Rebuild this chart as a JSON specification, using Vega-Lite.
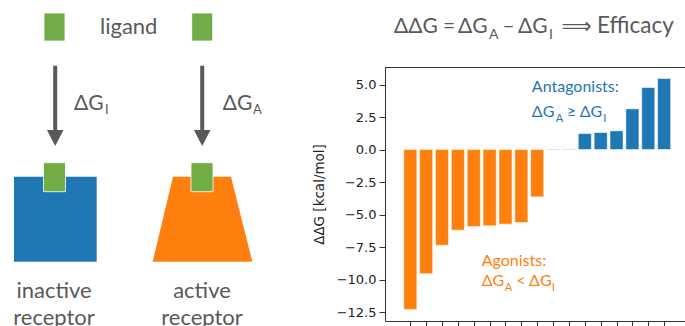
{
  "$schema": "https://vega.github.io/schema/vega-lite/v6.json",
  "width": 300,
  "height": 254,
  "autosize": "none",
  "padding": {"left": 385, "top": 67, "right": 0, "bottom": 5},
  "background": "white",
  "config": {
    "view": {"stroke": null},
    "text": {"font": "Lato, DejaVu Sans"}
  },
  "datasets": {
    "bars": [
      {"rank": 0, "ddG": -12.3, "class": "agonist"},
      {"rank": 1, "ddG": -9.55, "class": "agonist"},
      {"rank": 2, "ddG": -7.36, "class": "agonist"},
      {"rank": 3, "ddG": -6.2, "class": "agonist"},
      {"rank": 4, "ddG": -5.92, "class": "agonist"},
      {"rank": 5, "ddG": -5.87, "class": "agonist"},
      {"rank": 6, "ddG": -5.74, "class": "agonist"},
      {"rank": 7, "ddG": -5.62, "class": "agonist"},
      {"rank": 8, "ddG": -3.64, "class": "agonist"},
      {"rank": 9, "ddG": 0.04, "class": "antagonist"},
      {"rank": 10, "ddG": 0.04, "class": "antagonist"},
      {"rank": 11, "ddG": 1.23, "class": "antagonist"},
      {"rank": 12, "ddG": 1.31, "class": "antagonist"},
      {"rank": 13, "ddG": 1.44, "class": "antagonist"},
      {"rank": 14, "ddG": 3.13, "class": "antagonist"},
      {"rank": 15, "ddG": 4.77, "class": "antagonist"},
      {"rank": 16, "ddG": 5.46, "class": "antagonist"}
    ],
    "rects": [
      {"part": "inactive", "x0": 14, "x1": 96.7, "y0": 176.7, "y1": 261.7},
      {"part": "arrow", "x0": 53.2, "x1": 57.2, "y0": 65.7, "y1": 131},
      {"part": "arrow", "x0": 200.2, "x1": 204.2, "y0": 65.7, "y1": 131}
    ],
    "ligands": [
      {"part": "ligand", "x0": 44, "x1": 65, "y0": 13, "y1": 41},
      {"part": "ligand", "x0": 191.7, "x1": 212.7, "y0": 13, "y1": 41},
      {"part": "ligand", "x0": 43.5, "x1": 65.5, "y0": 162.7, "y1": 191.7},
      {"part": "ligand", "x0": 191, "x1": 213, "y0": 162.7, "y1": 191.7}
    ],
    "polygons": [
      {"shape": "headL", "part": "arrow", "x": 46.9, "yTop": 130, "yBot": 130},
      {"shape": "headL", "part": "arrow", "x": 55.2, "yTop": 130, "yBot": 146},
      {"shape": "headL", "part": "arrow", "x": 63.5, "yTop": 130, "yBot": 130},
      {"shape": "headR", "part": "arrow", "x": 193.9, "yTop": 130, "yBot": 130},
      {"shape": "headR", "part": "arrow", "x": 202.2, "yTop": 130, "yBot": 146},
      {"shape": "headR", "part": "arrow", "x": 210.5, "yTop": 130, "yBot": 130},
      {"shape": "trap", "part": "active", "x": 152.7, "yTop": 261.7, "yBot": 261.7},
      {"shape": "trap", "part": "active", "x": 173, "yTop": 176.7, "yBot": 261.7},
      {"shape": "trap", "part": "active", "x": 231, "yTop": 176.7, "yBot": 261.7},
      {"shape": "trap", "part": "active", "x": 252.3, "yTop": 261.7, "yBot": 261.7}
    ]
  },
  "layer": [
    {
      "data": {"name": "bars"},
      "layer": [
        {
          "mark": {"type": "bar", "orient": "vertical", "size": 13.1, "stroke": "white", "strokeOpacity": 0.55, "strokeWidth": 1},
          "encoding": {
            "x": {"field": "rank", "type": "quantitative",
                  "scale": {"domain": [-1.28, 17.0], "nice": false, "zero": false},
                  "axis": {"values": [0,1,2,3,4,5,6,7,8,9,10,11,12,13,14,15,16], "tickCount": 40, "labels": false, "ticks": true, "tickSize": 5, "tickColor": "#333333", "domainColor": "#333333", "grid": false, "title": null}},
            "y": {"field": "ddG", "type": "quantitative",
                  "scale": {"domain": [-13.19, 6.35], "nice": false, "zero": false},
                  "axis": {"values": [5, 2.5, 0, -2.5, -5, -7.5, -10, -12.5], "tickCount": 40, "labelOverlap": false, "format": ".1f", "grid": false,
                           "labelFont": "DejaVu Sans", "labelFontSize": 13, "labelColor": "#222222", "labelPadding": 3,
                           "tickSize": 6, "tickColor": "#333333", "domainColor": "#333333",
                           "title": "ΔΔG [kcal/mol]", "titleFont": "DejaVu Sans", "titleFontSize": 13.5, "titleFontWeight": "normal", "titleColor": "#222222", "titlePadding": 10}},
            "color": {"field": "class", "type": "nominal",
                      "scale": {"domain": ["agonist", "antagonist"], "range": ["#ff7f0e", "#1f77b4"]}, "legend": null}
          }
        },
        {
          "data": {"values": [{}]},
          "mark": {"type": "rule", "color": "#333333", "strokeWidth": 1},
          "encoding": {"y": {"datum": 6.31}}
        },
        {
          "data": {"values": [{}]},
          "layer": [
            {"mark": {"type": "text", "text": "Antagonists:", "fontSize": 16, "align": "left", "baseline": "alphabetic", "color": "#1f77b4"},
             "encoding": {"x": {"datum": 7.66}, "y": {"datum": 4.39}}},
            {"mark": {"type": "text", "text": "ΔG", "fontSize": 16, "align": "left", "baseline": "alphabetic", "color": "#1f77b4"},
             "encoding": {"x": {"datum": 7.66}, "y": {"datum": 2.54}}},
            {"mark": {"type": "text", "text": "A", "fontSize": 11, "align": "left", "baseline": "alphabetic", "color": "#1f77b4", "dx": 24, "dy": 5},
             "encoding": {"x": {"datum": 7.66}, "y": {"datum": 2.54}}},
            {"mark": {"type": "text", "text": "≥ ΔG", "fontSize": 16, "align": "left", "baseline": "alphabetic", "color": "#1f77b4", "dx": 35},
             "encoding": {"x": {"datum": 7.66}, "y": {"datum": 2.54}}},
            {"mark": {"type": "text", "text": "I", "fontSize": 11, "align": "left", "baseline": "alphabetic", "color": "#1f77b4", "dx": 71.5, "dy": 5},
             "encoding": {"x": {"datum": 7.66}, "y": {"datum": 2.54}}},
            {"mark": {"type": "text", "text": "Agonists:", "fontSize": 16, "align": "left", "baseline": "alphabetic", "color": "#ff7f0e"},
             "encoding": {"x": {"datum": 4.5}, "y": {"datum": -8.99}}},
            {"mark": {"type": "text", "text": "ΔG", "fontSize": 16, "align": "left", "baseline": "alphabetic", "color": "#ff7f0e"},
             "encoding": {"x": {"datum": 4.5}, "y": {"datum": -10.53}}},
            {"mark": {"type": "text", "text": "A", "fontSize": 11, "align": "left", "baseline": "alphabetic", "color": "#ff7f0e", "dx": 23, "dy": 5},
             "encoding": {"x": {"datum": 4.5}, "y": {"datum": -10.53}}},
            {"mark": {"type": "text", "text": "< ΔG", "fontSize": 16, "align": "left", "baseline": "alphabetic", "color": "#ff7f0e", "dx": 34.5},
             "encoding": {"x": {"datum": 4.5}, "y": {"datum": -10.53}}},
            {"mark": {"type": "text", "text": "I", "fontSize": 11, "align": "left", "baseline": "alphabetic", "color": "#ff7f0e", "dx": 70, "dy": 5},
             "encoding": {"x": {"datum": 4.5}, "y": {"datum": -10.53}}}
          ]
        }
      ]
    },
    {
      "data": {"values": [{}]},
      "layer": [
        {
          "data": {"name": "polygons"},
          "mark": {"type": "area", "interpolate": "linear"},
          "encoding": {
            "x": {"field": "x", "type": "quantitative", "scale": {"domain": [385, 685], "nice": false, "zero": false}, "axis": null},
            "y": {"field": "yTop", "type": "quantitative", "scale": {"domain": [67, 321], "nice": false, "zero": false, "reverse": true}, "axis": null, "stack": null},
            "y2": {"field": "yBot"},
            "detail": {"field": "shape"},
            "color": {"field": "part", "type": "nominal", "scale": {"domain": ["ligand", "inactive", "active", "arrow"], "range": ["#70ad47", "#1f77b4", "#ff7f0e", "#595959"]}, "legend": null}
          }
        },
        {
          "data": {"name": "rects"},
          "mark": {"type": "rect"},
          "encoding": {
            "x": {"field": "x0", "type": "quantitative", "scale": {"domain": [385, 685], "nice": false, "zero": false}, "axis": null},
            "x2": {"field": "x1"},
            "y": {"field": "y0", "type": "quantitative", "scale": {"domain": [67, 321], "nice": false, "zero": false, "reverse": true}, "axis": null},
            "y2": {"field": "y1"},
            "color": {"field": "part", "type": "nominal", "legend": null}
          }
        },
        {
          "data": {"name": "ligands"},
          "mark": {"type": "rect", "stroke": "white", "strokeWidth": 1, "strokeOpacity": 0.8},
          "encoding": {
            "x": {"field": "x0", "type": "quantitative", "scale": {"domain": [385, 685], "nice": false, "zero": false}, "axis": null},
            "x2": {"field": "x1"},
            "y": {"field": "y0", "type": "quantitative", "scale": {"domain": [67, 321], "nice": false, "zero": false, "reverse": true}, "axis": null},
            "y2": {"field": "y1"},
            "color": {"field": "part", "type": "nominal", "legend": null}
          }
        },
        {"mark": {"type": "text", "text": "ligand", "fontSize": 22, "align": "left", "baseline": "alphabetic", "color": "#595959"},
         "encoding": {"x": {"datum": 100, "scale": {"domain": [385, 685], "nice": false, "zero": false}, "axis": null}, "y": {"datum": 34, "scale": {"domain": [67, 321], "nice": false, "zero": false, "reverse": true}, "axis": null}}},
        {"mark": {"type": "text", "text": "ΔG", "fontSize": 21, "align": "left", "baseline": "alphabetic", "color": "#595959"},
         "encoding": {"x": {"datum": 74}, "y": {"datum": 110}}},
        {"mark": {"type": "text", "text": "I", "fontSize": 13, "align": "left", "baseline": "alphabetic", "color": "#595959"},
         "encoding": {"x": {"datum": 105}, "y": {"datum": 114}}},
        {"mark": {"type": "text", "text": "ΔG", "fontSize": 21, "align": "left", "baseline": "alphabetic", "color": "#595959"},
         "encoding": {"x": {"datum": 222.7}, "y": {"datum": 110}}},
        {"mark": {"type": "text", "text": "A", "fontSize": 13, "align": "left", "baseline": "alphabetic", "color": "#595959"},
         "encoding": {"x": {"datum": 253}, "y": {"datum": 114}}},
        {"mark": {"type": "text", "text": "inactive", "fontSize": 22, "align": "center", "baseline": "alphabetic", "color": "#595959"},
         "encoding": {"x": {"datum": 54}, "y": {"datum": 298}}},
        {"mark": {"type": "text", "text": "receptor", "fontSize": 22, "align": "center", "baseline": "alphabetic", "color": "#595959"},
         "encoding": {"x": {"datum": 54}, "y": {"datum": 325}}},
        {"mark": {"type": "text", "text": "active", "fontSize": 22, "align": "center", "baseline": "alphabetic", "color": "#595959"},
         "encoding": {"x": {"datum": 202}, "y": {"datum": 298}}},
        {"mark": {"type": "text", "text": "receptor", "fontSize": 22, "align": "center", "baseline": "alphabetic", "color": "#595959"},
         "encoding": {"x": {"datum": 202}, "y": {"datum": 325}}},
        {"mark": {"type": "text", "text": "ΔΔG", "fontSize": 21, "align": "left", "baseline": "alphabetic", "color": "#595959"},
         "encoding": {"x": {"datum": 394}, "y": {"datum": 33.3}}},
        {"mark": {"type": "text", "text": "=", "fontSize": 21, "align": "left", "baseline": "alphabetic", "color": "#595959"},
         "encoding": {"x": {"datum": 443}, "y": {"datum": 33.3}}},
        {"mark": {"type": "text", "text": "ΔG", "fontSize": 21, "align": "left", "baseline": "alphabetic", "color": "#595959"},
         "encoding": {"x": {"datum": 458}, "y": {"datum": 33.3}}},
        {"mark": {"type": "text", "text": "A", "fontSize": 14, "align": "left", "baseline": "alphabetic", "color": "#595959"},
         "encoding": {"x": {"datum": 489}, "y": {"datum": 38.5}}},
        {"mark": {"type": "text", "text": "–", "fontSize": 21, "align": "left", "baseline": "alphabetic", "color": "#595959"},
         "encoding": {"x": {"datum": 502.5}, "y": {"datum": 33.3}}},
        {"mark": {"type": "text", "text": "ΔG", "fontSize": 21, "align": "left", "baseline": "alphabetic", "color": "#595959"},
         "encoding": {"x": {"datum": 518}, "y": {"datum": 33.3}}},
        {"mark": {"type": "text", "text": "I", "fontSize": 14, "align": "left", "baseline": "alphabetic", "color": "#595959"},
         "encoding": {"x": {"datum": 549}, "y": {"datum": 38.5}}},
        {"mark": {"type": "text", "text": "⟹", "fontSize": 21, "align": "left", "baseline": "alphabetic", "color": "#595959"},
         "encoding": {"x": {"datum": 561.5}, "y": {"datum": 33.3}}},
        {"mark": {"type": "text", "text": "Efficacy", "fontSize": 22.5, "align": "left", "baseline": "alphabetic", "color": "#595959"},
         "encoding": {"x": {"datum": 597}, "y": {"datum": 33.3}}}
      ]
    }
  ],
  "resolve": {"scale": {"x": "independent", "y": "independent", "color": "independent"}}
}
